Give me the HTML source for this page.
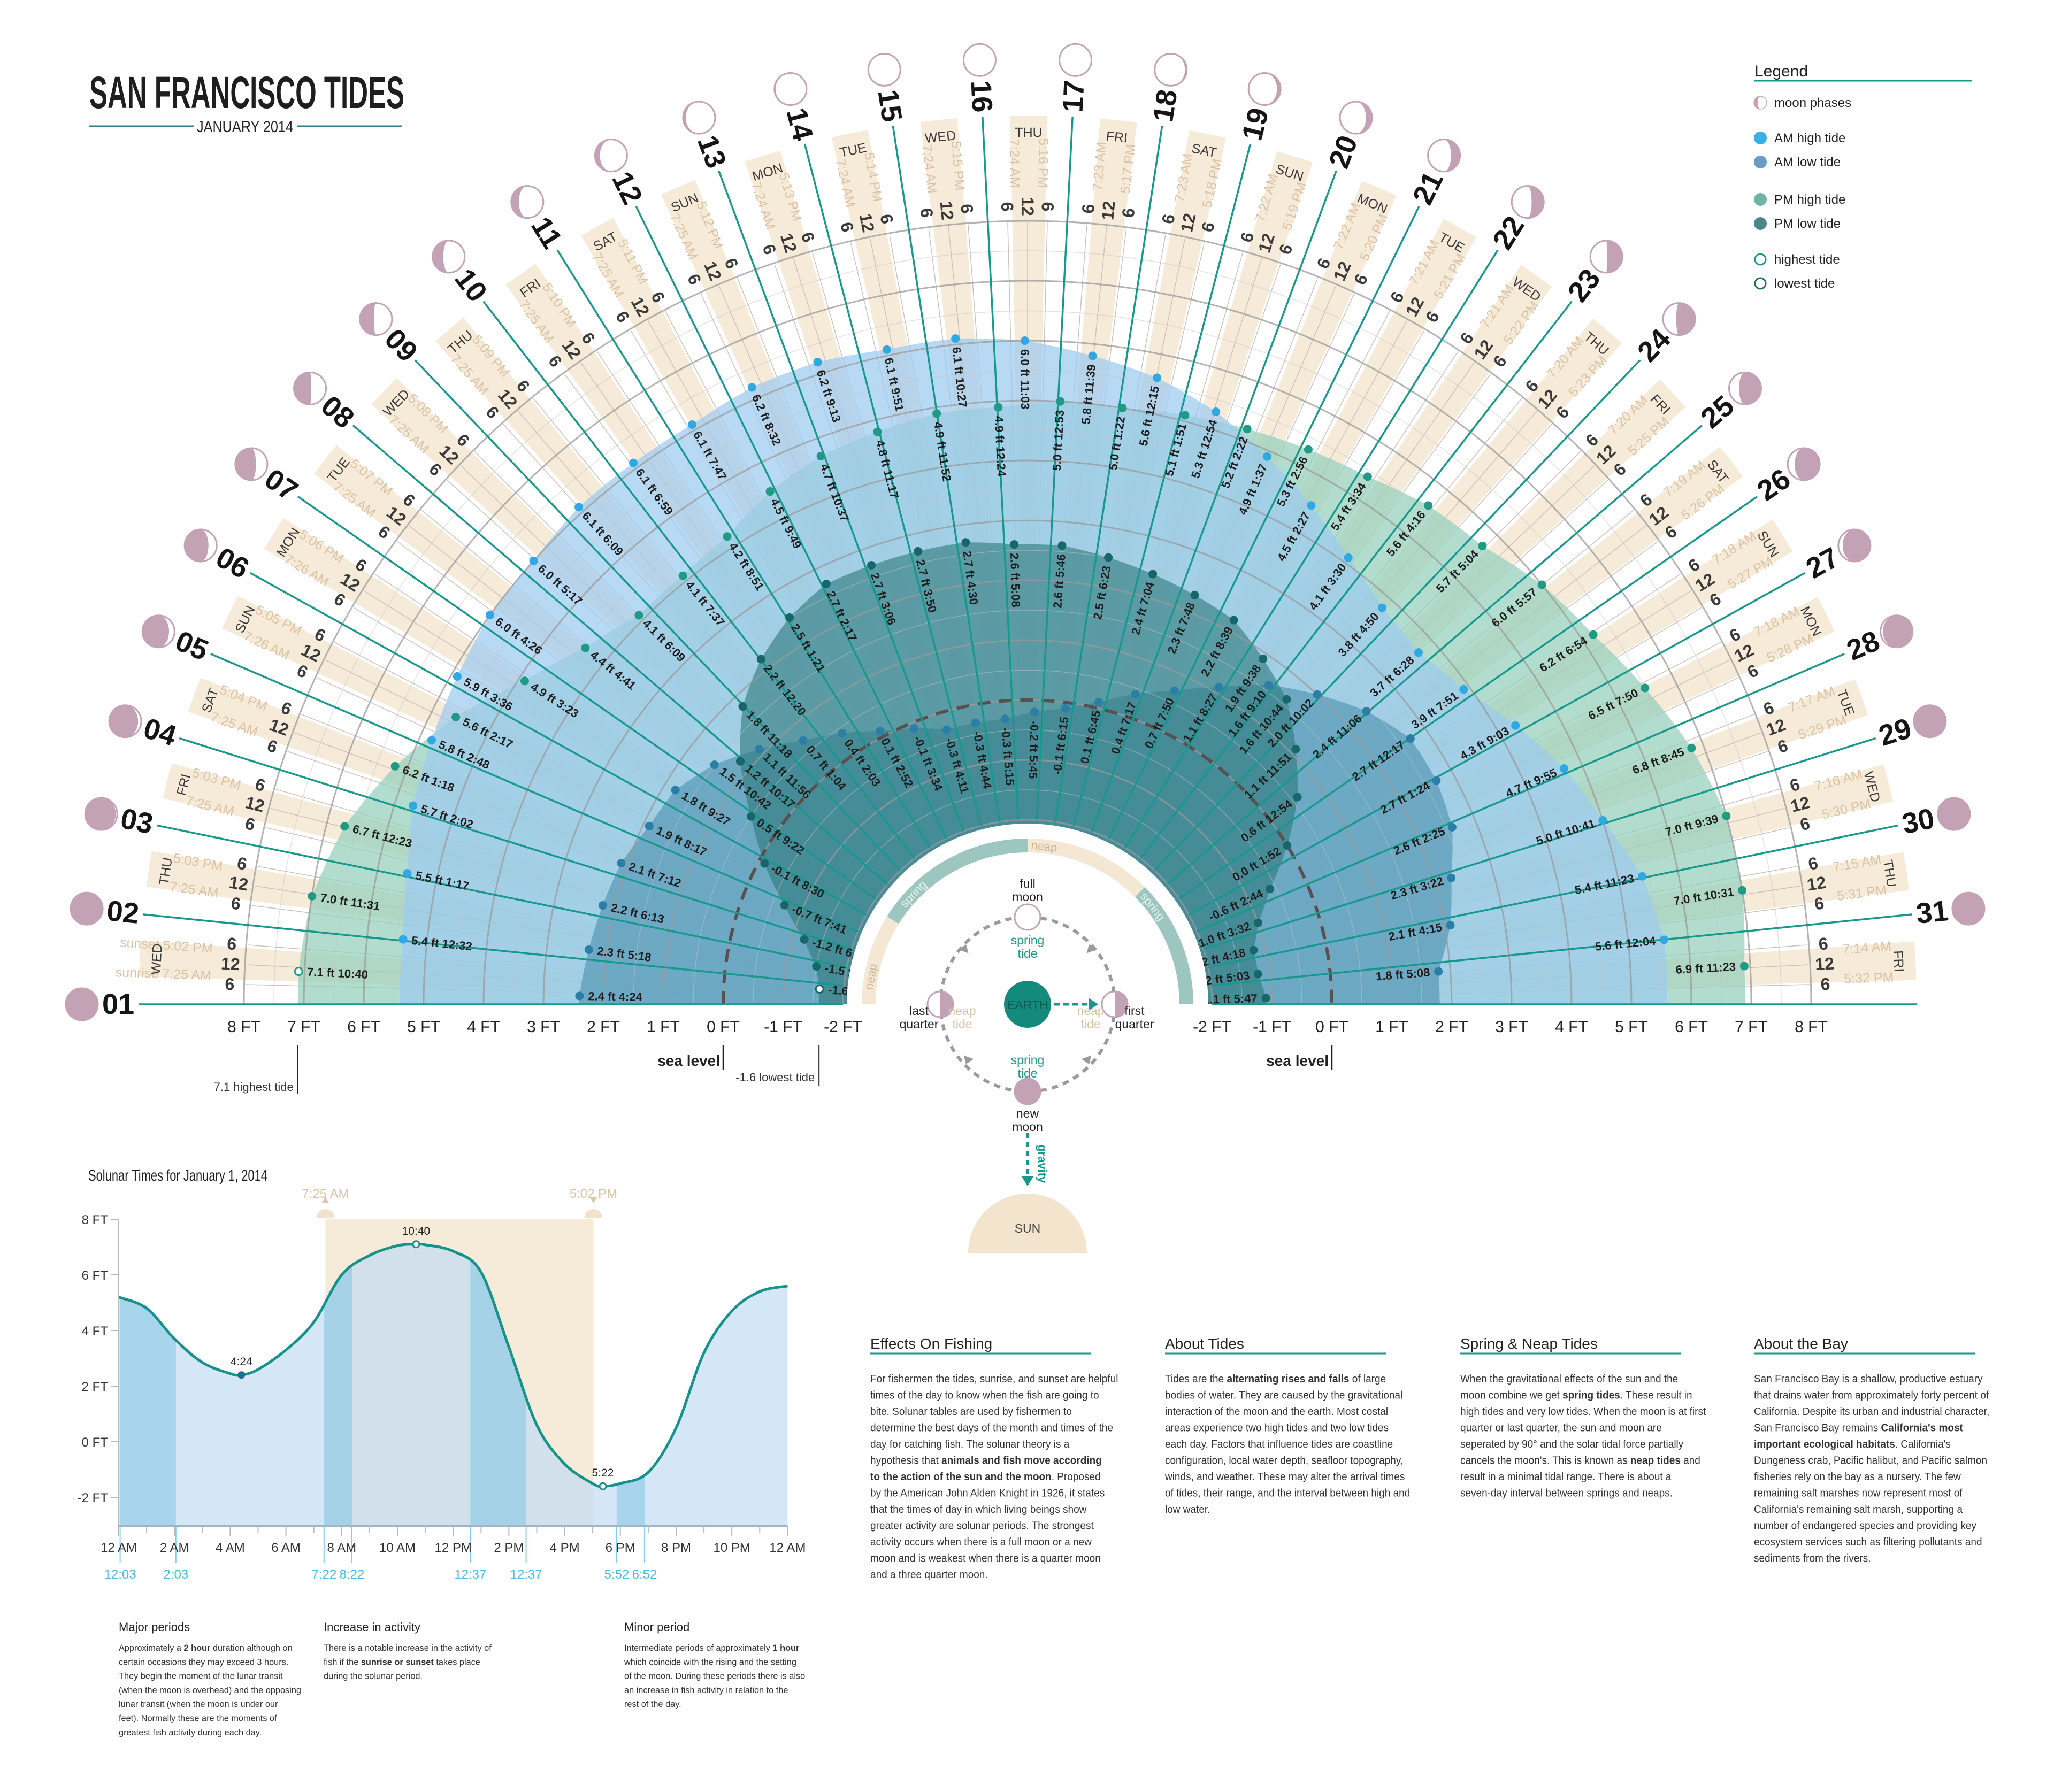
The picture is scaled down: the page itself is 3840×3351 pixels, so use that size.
<!DOCTYPE html>
<html><head><meta charset="utf-8"><title>San Francisco Tides</title>
<style>
html,body{margin:0;padding:0;background:#fff;}
svg{display:block;}
text{font-family:"Liberation Sans Narrow","Liberation Sans",sans-serif;}
</style></head>
<body>
<svg id="chart" xmlns="http://www.w3.org/2000/svg" width="3840" height="3351" viewBox="0 0 3840 3351">
<rect width="3840" height="3351" fill="#fff"/>
<g>
<text x="167" y="202" font-size="84" font-weight="bold" fill="#1e1e1e" textLength="589" lengthAdjust="spacingAndGlyphs">SAN FRANCISCO TIDES</text>
<line x1="167" y1="236" x2="362" y2="236" stroke="#2a7f88" stroke-width="3"/>
<line x1="555" y1="236" x2="751" y2="236" stroke="#2a7f88" stroke-width="3"/>
<text x="458" y="247" font-size="30" text-anchor="middle" fill="#222" textLength="180" lengthAdjust="spacingAndGlyphs">JANUARY 2014</text>
</g>
<g>
<text x="3280" y="143" font-size="30" fill="#222">Legend</text>
<line x1="3280" y1="151" x2="3687" y2="151" stroke="#1a9a8a" stroke-width="3"/>
<circle cx="3291" cy="192" r="12" fill="#fff" stroke="#c9a9bb" stroke-width="1.5"/>
<path d="M3291,180 A12,12 0 0 0 3291,204 A5,12 0 0 1 3291,180Z" fill="#c9a2b6"/>
<text x="3317" y="200" font-size="24" fill="#222">moon phases</text>
<circle cx="3291" cy="258" r="12" fill="#3aaee6"/>
<text x="3317" y="266" font-size="24" fill="#222">AM high tide</text>
<circle cx="3291" cy="303" r="12" fill="#6a9cc4"/>
<text x="3317" y="311" font-size="24" fill="#222">AM low tide</text>
<circle cx="3291" cy="373" r="12" fill="#6fb5a6"/>
<text x="3317" y="381" font-size="24" fill="#222">PM high tide</text>
<circle cx="3291" cy="418" r="12" fill="#4e8587"/>
<text x="3317" y="426" font-size="24" fill="#222">PM low tide</text>
<circle cx="3291" cy="485" r="10" fill="#fff" stroke="#1a9a8a" stroke-width="3"/>
<text x="3317" y="493" font-size="24" fill="#222">highest tide</text>
<circle cx="3291" cy="530" r="10" fill="#fff" stroke="#1b6f70" stroke-width="3"/>
<text x="3317" y="538" font-size="24" fill="#222">lowest tide</text>
</g>
<g id="radial"></g>
<g id="hub"></g>
<g id="solunar"></g>

<g font-size="17" fill="#333">
<text x="222" y="3050" font-size="22" fill="#222">Major periods</text>
<g transform="translate(222,3087) scale(0.96,1)">
<text y="0">Approximately a <tspan font-weight="bold">2 hour</tspan> duration although on</text>
<text y="26.3">certain occasions they may exceed 3 hours.</text>
<text y="52.6">They begin the moment of the lunar transit</text>
<text y="78.9">(when the moon is overhead) and the opposing</text>
<text y="105.2">lunar transit (when the moon is under our</text>
<text y="131.5">feet). Normally these are the moments of</text>
<text y="157.8">greatest fish activity during each day.</text>
</g>
<text x="605" y="3050" font-size="22" fill="#222">Increase in activity</text>
<g transform="translate(605,3087) scale(0.96,1)">
<text y="0">There is a notable increase in the activity of</text>
<text y="26.3">fish if the <tspan font-weight="bold">sunrise or sunset</tspan> takes place</text>
<text y="52.6">during the solunar period.</text>
</g>
<text x="1167" y="3050" font-size="22" fill="#222">Minor period</text>
<g transform="translate(1167,3087) scale(0.96,1)">
<text y="0">Intermediate periods of approximately <tspan font-weight="bold">1 hour</tspan></text>
<text y="26.3">which coincide with the rising and the setting</text>
<text y="52.6">of the moon. During these periods there is also</text>
<text y="78.9">an increase in fish activity in relation to the</text>
<text y="105.2">rest of the day.</text>
</g>
</g>

<g font-size="20" fill="#333">
<text x="1627" y="2522" font-size="28" fill="#222">Effects On Fishing</text>
<line x1="1627" y1="2531" x2="2040" y2="2531" stroke="#1a9a8a" stroke-width="3"/>
<g transform="translate(1627,2585) scale(0.95,1)">
<text y="0">For fishermen the tides, sunrise, and sunset are helpful</text>
<text y="30.5">times of the day to know when the fish are going to</text>
<text y="61">bite. Solunar tables are used by fishermen to</text>
<text y="91.5">determine the best days of the month and times of the</text>
<text y="122">day for catching fish. The solunar theory is a</text>
<text y="152.5">hypothesis that <tspan font-weight="bold">animals and fish move according</tspan></text>
<text y="183"><tspan font-weight="bold">to the action of the sun and the moon</tspan>. Proposed</text>
<text y="213.5">by the American John Alden Knight in 1926, it states</text>
<text y="244">that the times of day in which living beings show</text>
<text y="274.5">greater activity are solunar periods. The strongest</text>
<text y="305">activity occurs when there is a full moon or a new</text>
<text y="335.5">moon and is weakest when there is a quarter moon</text>
<text y="366">and a three quarter moon.</text>
</g>
<text x="2178" y="2522" font-size="28" fill="#222">About Tides</text>
<line x1="2178" y1="2531" x2="2591" y2="2531" stroke="#1a9a8a" stroke-width="3"/>
<g transform="translate(2178,2585) scale(0.95,1)">
<text y="0">Tides are the <tspan font-weight="bold">alternating rises and falls</tspan> of large</text>
<text y="30.5">bodies of water. They are caused by the gravitational</text>
<text y="61">interaction of the moon and the earth. Most costal</text>
<text y="91.5">areas experience two high tides and two low tides</text>
<text y="122">each day. Factors that influence tides are coastline</text>
<text y="152.5">configuration, local water depth, seafloor topography,</text>
<text y="183">winds, and weather. These may alter the arrival times</text>
<text y="213.5">of tides, their range, and the interval between high and</text>
<text y="244">low water.</text>
</g>
<text x="2730" y="2522" font-size="28" fill="#222">Spring &amp; Neap Tides</text>
<line x1="2730" y1="2531" x2="3143" y2="2531" stroke="#1a9a8a" stroke-width="3"/>
<g transform="translate(2730,2585) scale(0.95,1)">
<text y="0">When the gravitational effects of the sun and the</text>
<text y="30.5">moon combine we get <tspan font-weight="bold">spring tides</tspan>. These result in</text>
<text y="61">high tides and very low tides. When the moon is at first</text>
<text y="91.5">quarter or last quarter, the sun and moon are</text>
<text y="122">seperated by 90° and the solar tidal force partially</text>
<text y="152.5">cancels the moon's. This is known as <tspan font-weight="bold">neap tides</tspan> and</text>
<text y="183">result in a minimal tidal range. There is about a</text>
<text y="213.5">seven-day interval between springs and neaps.</text>
</g>
<text x="3279" y="2522" font-size="28" fill="#222">About the Bay</text>
<line x1="3279" y1="2531" x2="3692" y2="2531" stroke="#1a9a8a" stroke-width="3"/>
<g transform="translate(3279,2585) scale(0.95,1)">
<text y="0">San Francisco Bay is a shallow, productive estuary</text>
<text y="30.5">that drains water from approximately forty percent of</text>
<text y="61">California. Despite its urban and industrial character,</text>
<text y="91.5">San Francisco Bay remains <tspan font-weight="bold">California's most</tspan></text>
<text y="122"><tspan font-weight="bold">important ecological habitats</tspan>. California's</text>
<text y="152.5">Dungeness crab, Pacific halibut, and Pacific salmon</text>
<text y="183">fisheries rely on the bay as a nursery. The few</text>
<text y="213.5">remaining salt marshes now represent most of</text>
<text y="244">California's remaining salt marsh, supporting a</text>
<text y="274.5">number of endangered species and providing key</text>
<text y="305">ecosystem services such as filtering pollutants and</text>
<text y="335.5">sediments from the rivers.</text>
</g>
</g>
</svg>

<script>
// ===== Radial chart data =====
const weekdays = ['WED','THU','FRI','SAT','SUN','MON','TUE','WED','THU','FRI','SAT','SUN','MON','TUE','WED','THU','FRI','SAT','SUN','MON','TUE','WED','THU','FRI','SAT','SUN','MON','TUE','WED','THU','FRI'];
const sunriseTimes = ['7:25','7:25','7:25','7:25','7:26','7:26','7:25','7:25','7:25','7:25','7:25','7:25','7:24','7:24','7:24','7:24','7:23','7:23','7:22','7:22','7:21','7:21','7:20','7:20','7:19','7:18','7:18','7:17','7:16','7:15','7:14'];
const sunsetTimes = ['5:02','5:03','5:03','5:04','5:05','5:06','5:07','5:08','5:09','5:10','5:11','5:12','5:13','5:14','5:15','5:16','5:17','5:18','5:19','5:20','5:21','5:22','5:23','5:25','5:26','5:27','5:28','5:29','5:30','5:31','5:32'];

// AM high tide (blue)
const amHighDay  = [2,3,4,5,6,7,8,9,10,11,12,13,14,15,16,17,18,19,20,21,22,23,24,25,26,27,28,29,31];
const amHighTime = ['00:32','01:17','02:02','02:48','03:36','04:26','05:17','06:09','06:59','07:47','08:32','09:13','09:51','10:27','11:03','11:39','12:15','12:54','13:37','14:27','15:30','16:50','18:28','19:51','21:03','21:55','22:41','23:23','00:04'];
const amHighFt   = [5.4,5.5,5.7,5.8,5.9,6.0,6.0,6.1,6.1,6.1,6.2,6.2,6.1,6.1,6.0,5.8,5.6,5.3,4.9,4.5,4.1,3.8,3.7,3.9,4.3,4.7,5.0,5.4,5.6];
// PM high tide (green)
const pmHighDay  = [1,2,3,4,5,6,7,8,9,10,11,12,13,14,16,17,18,19,20,21,22,23,24,25,26,27,28,29,30,31];
const pmHighTime = ['10:40','11:31','12:23','13:18','14:17','15:23','16:41','18:09','19:37','20:51','21:49','22:37','23:17','23:52','00:24','00:53','01:22','01:51','02:22','02:56','03:34','04:16','05:04','05:57','06:54','07:50','08:45','09:39','10:31','11:23'];
const pmHighFt   = [7.1,7.0,6.7,6.2,5.6,4.9,4.4,4.1,4.1,4.2,4.5,4.7,4.8,4.9,4.9,5.0,5.0,5.1,5.2,5.3,5.4,5.6,5.7,6.0,6.2,6.5,6.8,7.0,7.0,6.9];
// AM low tide (steel blue)
const amLowDay  = [1,2,3,4,5,6,7,8,9,10,11,12,13,14,15,16,17,18,19,20,21,22,23,24,26,27,28,29,30,31];
const amLowTime = ['04:24','05:18','06:13','07:12','08:17','09:27','10:42','11:56','13:04','14:03','14:52','15:34','16:11','16:44','17:15','17:45','18:15','18:45','19:17','19:50','20:27','21:10','22:02','23:06','00:17','01:24','02:25','03:22','04:15','05:08'];
const amLowFt   = [2.4,2.3,2.2,2.1,1.9,1.8,1.5,1.1,0.7,0.4,0.1,-0.1,-0.3,-0.3,-0.3,-0.2,-0.1,0.1,0.4,0.7,1.1,1.6,2.0,2.4,2.7,2.7,2.6,2.3,2.1,1.8];
// PM low tide (dark teal)
const pmLowDay  = [1,2,3,4,5,6,7,8,10,11,12,13,14,15,16,17,18,19,20,21,22,23,24,25,26,27,28,29,30,31];
const pmLowTime = ['17:22','18:07','18:54','19:41','20:30','21:22','22:17','23:18','00:20','01:21','02:17','03:06','03:50','04:30','05:08','05:46','06:23','07:04','07:48','08:39','09:38','10:44','11:51','12:54','13:52','14:44','15:32','16:18','17:03','17:47'];
const pmLowFt   = [-1.6,-1.5,-1.2,-0.7,-0.1,0.5,1.2,1.8,2.2,2.5,2.7,2.7,2.7,2.7,2.6,2.6,2.5,2.4,2.3,2.2,1.9,1.6,1.1,0.6,0.0,-0.6,-1.0,-1.2,-1.2,-1.1];
const ftTicks = [-2,-1,0,1,2,3,4,5,6,7,8];
const ftTickLabels = ['-2 FT','-1 FT','0 FT','1 FT','2 FT','3 FT','4 FT','5 FT','6 FT','7 FT','8 FT'];

// ===== Solunar chart data =====
const solunarHours = [0,1,2,3,4,4.4,5,6,7,8,9,10,10.67,11,12,13,14,15,16,17,17.37,18,19,20,21,22,23,24];
const solunarFt = [5.2,4.8,3.7,2.85,2.45,2.4,2.6,3.3,4.3,6.0,6.7,7.05,7.1,7.08,6.85,6.1,3.4,0.6,-0.8,-1.5,-1.6,-1.5,-1.1,0.5,3.2,4.7,5.4,5.6];
const bandStart = [0.05,7.367,12.617,17.867];
const bandEnd = [2.05,8.367,14.617,18.867];
const bandStartLabels = ['12:03','7:22','12:37','5:52'];
const bandEndLabels = ['2:03','8:22','12:37','6:52'];
const hourTickLabels = ['12 AM','2 AM','4 AM','6 AM','8 AM','10 AM','12 PM','2 PM','4 PM','6 PM','8 PM','10 PM','12 AM'];
const solYTicks = [8,6,4,2,0,-2];
const solYLabels = ['8 FT','6 FT','4 FT','2 FT','0 FT','-2 FT'];
const extremeHours = [4.4,10.67,17.37];
const extremeFt = [2.4,7.1,-1.6];
const extremeLabels = ['4:24','10:40','5:22'];
const sunEventHours = [7.417,17.033];
const sunEventLabels = ['7:25 AM','5:02 PM'];

const NS = 'http://www.w3.org/2000/svg';
function mk(tag, parent) { const e = document.createElementNS(NS, tag); parent.appendChild(e); return e; }
function set(e, o) { for (const k in o) e.setAttribute(k, o[k]); return e; }

const CX = 1921, CY = 1878, STEP = 180 / 31, R_IN = 345, R_OUT = 1662;
function rad(ft) { return 569 + 112 * ft; }
function toH(s) { const p = s.split(':').map(Number); return p[0] + p[1] / 60; }
function ang(d, h) { return 180 - STEP * (d - 1) - STEP * h / 24; }
function P(a, r) { const t = a * Math.PI / 180; return [CX + r * Math.cos(t), CY - r * Math.sin(t)]; }
function fmt(s) { const p = s.split(':'); let h = +p[0] % 12; if (h === 0) h = 12; return h + ':' + p[1]; }
function sector(a1, a2, r1, r2) {
  const A = P(a1, r2), B = P(a2, r2), C = P(a2, r1), D = P(a1, r1);
  return `M${A[0]},${A[1]} A${r2},${r2} 0 0 1 ${B[0]},${B[1]} L${C[0]},${C[1]} A${r1},${r1} 0 0 0 ${D[0]},${D[1]} Z`;
}
function rotFor(d, a) { return d <= 16 ? 180 - a : -a; }

const radial = document.getElementById('radial');
const gBeige = mk('g', radial);


const gFill = mk('g', radial);


const gGrid = mk('g', radial);


const gRay = mk('g', radial);


const gTxt = mk('g', radial);


const gDots = mk('g', radial);



// daylight bands + hour lines + per-day labels
for (let i = 0; i < weekdays.length; i++) {
  const d = i + 1;
  const sr = toH(sunriseTimes[i]), ss = toH(sunsetTimes[i]) + 12;
  const band = mk('path', gBeige);
  set(band, { d: sector(ang(d, sr), ang(d, ss), R_IN, R_OUT), fill: '#f6ead8' });
  
  
  [6, 12, 18].forEach((h, j) => {
    const a = ang(d, h), p1 = P(a, R_IN), p2 = P(a, 1462);
    const ln = mk('line', gBeige);
    set(ln, { x1: p1[0], y1: p1[1], x2: p2[0], y2: p2[1], stroke: '#c8c2ba', 'stroke-width': 1.5 });
    
    
    const pt = P(a, 1492);
    const t = mk('text', gTxt);
    set(t, { x: pt[0], y: pt[1], 'font-size': 32, 'font-weight': 'bold', fill: '#3a3a3a', 'text-anchor': 'middle', 'dominant-baseline': 'central', transform: `rotate(${rotFor(d, a)},${pt[0]},${pt[1]})` });
    t.textContent = j === 1 ? '12' : '6';
    
    
  });
  const left = d <= 16;
  const aR = ang(d, sr + 0.9), pR = P(aR, 1527);
  const tr = mk('text', gTxt);
  set(tr, { x: pR[0], y: pR[1], 'font-size': 25, fill: '#d9c3a4', 'text-anchor': left ? 'end' : 'start', 'dominant-baseline': 'central', transform: `rotate(${rotFor(d, aR)},${pR[0]},${pR[1]})` });
  tr.textContent = (d === 1 ? 'sunrise ' : '') + sunriseTimes[i] + ' AM';
  
  
  const aS = ang(d, ss - 0.9), pS = P(aS, 1527);
  const ts = mk('text', gTxt);
  set(ts, { x: pS[0], y: pS[1], 'font-size': 25, fill: '#d9c3a4', 'text-anchor': left ? 'end' : 'start', 'dominant-baseline': 'central', transform: `rotate(${rotFor(d, aS)},${pS[0]},${pS[1]})` });
  ts.textContent = (d === 1 ? 'sunset ' : '') + sunsetTimes[i] + ' PM';
  
  
  const aN = ang(d, 12.3), pN = P(aN, 1630);
  const tn = mk('text', gTxt);
  set(tn, { x: pN[0], y: pN[1], 'font-size': 25, fill: '#3a3a3a', 'text-anchor': 'middle', 'dominant-baseline': 'central', transform: `rotate(${left ? 90 - aN : 90 - aN},${pN[0]},${pN[1]})` });
  tn.textContent = weekdays[i];
  
  
}

// tide areas
function areaPath(days, times, fts) {
  const pts = days.map((d, i) => [ang(d, toH(times[i])), rad(fts[i])]).sort((a, b) => b[0] - a[0]);
  const full = [[180, pts[0][1]]].concat(pts, [[0, pts[pts.length - 1][1]]]);
  let s = '';
  for (let i = 0; i < full.length - 1; i++) {
    const [a1, r1] = full[i], [a2, r2] = full[i + 1];
    for (let k = 0; k < 8; k++) {
      const f = k / 8, p = P(a1 + (a2 - a1) * f, r1 + (r2 - r1) * f);
      s += (s ? 'L' : 'M') + p[0].toFixed(1) + ',' + p[1].toFixed(1);
    }
  }
  const e = P(0, full[full.length - 1][1]);
  s += 'L' + e[0] + ',' + e[1] + 'L' + CX + ',' + CY + 'Z';
  return s;
}
const aHigh = mk('path', gFill);
set(aHigh, { d: areaPath(pmHighDay, pmHighTime, pmHighFt), fill: '#94d0bb', 'fill-opacity': 0.72 });


const bHigh = mk('path', gFill);
set(bHigh, { d: areaPath(amHighDay, amHighTime, amHighFt), fill: '#9ccbf0', 'fill-opacity': 0.72 });


const bLow = mk('path', gFill);
set(bLow, { d: areaPath(amLowDay, amLowTime, amLowFt), fill: '#4a8fae', 'fill-opacity': 0.6 });


const aLow = mk('path', gFill);
set(aLow, { d: areaPath(pmLowDay, pmLowTime, pmLowFt), fill: '#2f7a7c', 'fill-opacity': 0.62 });



// grid arcs
for (let f = -2; f <= 8.01; f += 0.5) {
  const r = rad(f), major = Math.abs(f - Math.round(f)) < 0.01;
  const arc = mk('path', gGrid);
  set(arc, { d: `M${CX - r},${CY} A${r},${r} 0 0 1 ${CX + r},${CY}`, fill: 'none', stroke: major ? '#9a9a9a' : '#c4c4c4', 'stroke-width': major ? 3 : 1.5, 'stroke-opacity': major ? 0.75 : 0.5 });
  
  
}
const sea = mk('path', gGrid);
set(sea, { d: `M${CX - rad(0)},${CY} A${rad(0)},${rad(0)} 0 0 1 ${CX + rad(0)},${CY}`, fill: 'none', stroke: '#5a4f4f', 'stroke-width': 6, 'stroke-dasharray': '24 16' });



// day rays, numbers, moons
function moon(parent, cx, cy, R, p) {
  const g = mk('g', parent);
  const base = mk('circle', g);
  set(base, { cx, cy, r: R, fill: '#c4a2b6' });
  const k = Math.cos(2 * Math.PI * p), rx = Math.abs(k) * R;
  let d;
  if (p < 0.5) d = `M${cx},${cy - R} A${R},${R} 0 0 1 ${cx},${cy + R} A${rx},${R} 0 0 ${k > 0 ? 0 : 1} ${cx},${cy - R}Z`;
  else d = `M${cx},${cy - R} A${R},${R} 0 0 0 ${cx},${cy + R} A${rx},${R} 0 0 ${k > 0 ? 1 : 0} ${cx},${cy - R}Z`;
  const lit = mk('path', g);
  set(lit, { d, fill: '#fff' });
  const ol = mk('circle', g);
  set(ol, { cx, cy, r: R, fill: 'none', stroke: '#c4a2b6', 'stroke-width': 3 });
  return g;
}
for (let d = 1; d <= 31; d++) {
  const a = ang(d, 0), p1 = P(a, R_IN), p2 = P(a, R_OUT);
  const ln = mk('line', gRay);
  set(ln, { x1: p1[0], y1: p1[1], x2: p2[0], y2: p2[1], stroke: '#16998c', 'stroke-width': 3.5 });
  
  
  const pn = P(a, 1700);
  const tn = mk('text', gTxt);
  set(tn, { x: pn[0], y: pn[1], 'font-size': 54, 'font-weight': 'bold', fill: '#151515', 'text-anchor': 'middle', 'dominant-baseline': 'central', transform: `rotate(${rotFor(d, a)},${pn[0]},${pn[1]})` });
  tn.textContent = (d < 10 ? '0' : '') + d;
  
  
  const pm = P(a, 1768);
  const mg = moon(gTxt, pm[0], pm[1], 30, (((d - 1) / 29.53) % 1));
  
  
}
const rb = P(0, R_OUT), rbi = P(0, R_IN);
const rline = mk('line', gRay);
set(rline, { x1: rbi[0], y1: CY, x2: rb[0], y2: CY, stroke: '#16998c', 'stroke-width': 3.5 });



// points
function points(days, times, fts, color, name) {
  days.forEach((d, i) => {
    const a = ang(d, toH(times[i])), r = rad(fts[i]), p = P(a, r);
    const hollow = (name === 'pm-high' && d === 1) || (name === 'pm-low' && d === 1);
    const c = mk('circle', gDots);
    set(c, hollow ? { cx: p[0], cy: p[1], r: 7, fill: '#fff', stroke: color, 'stroke-width': 3 } : { cx: p[0], cy: p[1], r: 8, fill: color });
    
    
    const lp = P(a, r - 16);
    const t = mk('text', gDots);
    set(t, { x: lp[0], y: lp[1], 'font-size': 22, 'font-weight': 'bold', fill: '#1d1d1d', 'text-anchor': d <= 16 ? 'start' : 'end', 'dominant-baseline': 'central', transform: `rotate(${rotFor(d, a)},${lp[0]},${lp[1]})` });
    t.textContent = fts[i].toFixed(1) + ' ft ' + fmt(times[i]);
    
    
  });
}
points(amHighDay, amHighTime, amHighFt, '#2fa8e4', 'am-high');
points(pmHighDay, pmHighTime, pmHighFt, '#1f9a84', 'pm-high');
points(amLowDay, amLowTime, amLowFt, '#2b7fa6', 'am-low');
points(pmLowDay, pmLowTime, pmLowFt, '#17676a', 'pm-low');

// axis labels
ftTicks.forEach((f, i) => {
  [-1, 1].forEach(s => {
    const t = mk('text', radial);
    set(t, { x: CX + s * rad(f), y: 1930, 'font-size': 30, fill: '#222', 'text-anchor': 'middle' });
    t.textContent = ftTickLabels[i];
    
    
  });
});
[-1, 1].forEach(s => {
  const x = CX + s * rad(0);
  const l = mk('line', radial);
  set(l, { x1: x, y1: 1955, x2: x, y2: 2000, stroke: '#222', 'stroke-width': 2.5 });
  
  
  const t = mk('text', radial);
  set(t, { x: x - 6, y: 1993, 'font-size': 28, 'font-weight': 'bold', fill: '#222', 'text-anchor': 'end' });
  t.textContent = 'sea level';
  
  
});
const hx = CX - rad(7.1);
const hl = mk('line', radial);
set(hl, { x1: hx, y1: 1955, x2: hx, y2: 2045, stroke: '#222', 'stroke-width': 2 });


const ht = mk('text', radial);
set(ht, { x: hx - 8, y: 2040, 'font-size': 22, fill: '#333', 'text-anchor': 'end' });
ht.textContent = '7.1 highest tide';


const lx = CX - rad(-1.6);
const ll = mk('line', radial);
set(ll, { x1: lx, y1: 1955, x2: lx, y2: 2030, stroke: '#222', 'stroke-width': 2 });


const lt = mk('text', radial);
set(lt, { x: lx - 8, y: 2022, 'font-size': 22, fill: '#333', 'text-anchor': 'end' });
lt.textContent = '-1.6 lowest tide';



// ===== hub =====
const hub = document.getElementById('hub');
const hw = mk('path', hub);
set(hw, { d: `M${CX - 338},${CY} A338,338 0 0 1 ${CX + 338},${CY}Z`, fill: '#fff' });


[[180, 148, '#f4e7d4', 'neap', 170], [148, 90, '#9cc6bf', 'spring', 136], [90, 45, '#f4e7d4', 'neap', 84], [45, 0, '#9cc6bf', 'spring', 38]].forEach(s => {
  const seg = mk('path', hub);
  set(seg, { d: sector(s[0], s[1], 284, 310), fill: s[2] });
  
  
  const p = P(s[4], 297);
  const t = mk('text', hub);
  set(t, { x: p[0], y: p[1], 'font-size': 22, fill: s[3] === 'neap' ? '#cdb597' : '#e9f5f2', 'text-anchor': 'middle', 'dominant-baseline': 'central', transform: `rotate(${90 - s[4]},${p[0]},${p[1]})` });
  t.textContent = s[3];
  
  
});
const orbit = mk('circle', hub);
set(orbit, { cx: CX, cy: CY, r: 163, fill: 'none', stroke: '#9b9b9b', 'stroke-width': 6, 'stroke-dasharray': '12 10' });


[[CX - 115, CY - 112, 200], [CX + 115, CY - 112, 160], [CX - 115, CY + 112, 20], [CX + 115, CY + 112, -20]].forEach(a => {
  const ar = mk('path', hub);
  set(ar, { d: `M${a[0]},${a[1]} l-10,-14 l20,0Z`, fill: '#9b9b9b', transform: `rotate(${a[2]},${a[0]},${a[1]})` });
  
  
});
const mFull = moon(hub, CX, CY - 163, 24, 0.5);


const mNew = moon(hub, CX, CY + 163, 24, 0);


const mLast = moon(hub, CX - 163, CY, 24, 0.75);


const mFirst = moon(hub, CX + 163, CY, 24, 0.75);


const earth = mk('circle', hub);
set(earth, { cx: CX, cy: CY, r: 44, fill: '#138a7c' });


const arrowE = mk('path', hub);
set(arrowE, { d: `M${CX + 50},${CY} L${CX + 118},${CY}`, stroke: '#16998c', 'stroke-width': 5, 'stroke-dasharray': '10 7', fill: 'none' });


const arrowEH = mk('path', hub);
set(arrowEH, { d: `M${CX + 132},${CY} l-18,-12 l0,24Z`, fill: '#16998c' });


const gArrow = mk('path', hub);
set(gArrow, { d: `M${CX},${CY + 240} L${CX},${CY + 322}`, stroke: '#16998c', 'stroke-width': 5, 'stroke-dasharray': '10 7', fill: 'none' });


const gArrowH = mk('path', hub);
set(gArrowH, { d: `M${CX},${CY + 340} l-11,-18 l22,0Z`, fill: '#16998c' });


const sun = mk('path', hub);
set(sun, { d: `M${CX - 111},${CY + 465} A111,111 0 0 1 ${CX + 111},${CY + 465}Z`, fill: '#f3e4cd' });


const hubTexts = [
  ['full', CX, CY - 218, '#222', 'full-moon-label'], ['moon', CX, CY - 193, '#222', 'full-moon-label'],
  ['spring', CX, CY - 112, '#1a9a8a', 'spring-tide-label'], ['tide', CX, CY - 87, '#1a9a8a', 'spring-tide-label'],
  ['EARTH', CX, CY + 9, '#0c5a52', 'earth-label'],
  ['spring', CX, CY + 112, '#1a9a8a', 'spring-tide-label'], ['tide', CX, CY + 137, '#1a9a8a', 'spring-tide-label'],
  ['new', CX, CY + 212, '#222', 'new-moon-label'], ['moon', CX, CY + 237, '#222', 'new-moon-label'],
  ['last', CX - 203, CY + 20, '#222', 'last-quarter-label'], ['quarter', CX - 203, CY + 45, '#222', 'last-quarter-label'],
  ['neap', CX - 122, CY + 20, '#d9c3a4', 'neap-tide-label'], ['tide', CX - 122, CY + 45, '#d9c3a4', 'neap-tide-label'],
  ['neap', CX + 118, CY + 20, '#d9c3a4', 'neap-tide-label'], ['tide', CX + 118, CY + 45, '#d9c3a4', 'neap-tide-label'],
  ['first', CX + 200, CY + 20, '#222', 'first-quarter-label'], ['quarter', CX + 200, CY + 45, '#222', 'first-quarter-label'],
  ['SUN', CX, CY + 427, '#444', 'sun-label']
];
hubTexts.forEach(h => {
  const t = mk('text', hub);
  set(t, { x: h[1], y: h[2], 'font-size': 23, fill: h[3], 'text-anchor': 'middle' });
  t.textContent = h[0];
  
  
});
const grav = mk('text', hub);
set(grav, { x: CX + 20, y: CY + 262, 'font-size': 22, 'font-weight': 'bold', fill: '#16998c', transform: `rotate(90,${CX + 20},${CY + 262})` });
grav.textContent = 'gravity';



// ===== Solunar chart =====
const sol = document.getElementById('solunar');
const X0 = 222, XH = 52.1, YTOP = 2280, YPF = 52, YBOT = 2853;
function sx(h) { return X0 + XH * h; }
function sy(f) { return YTOP + (8 - f) * YPF; }
const st = mk('text', sol);
set(st, { x: 165, y: 2208, 'font-size': 30, fill: '#1e1e1e', textLength: 335, lengthAdjust: 'spacingAndGlyphs' });
st.textContent = 'Solunar Times for January 1, 2014';


const sunBand = mk('rect', sol);
set(sunBand, { x: sx(sunEventHours[0]), y: YTOP, width: sx(sunEventHours[1]) - sx(sunEventHours[0]), height: YBOT - YTOP, fill: '#f6ead8' });


sunEventHours.forEach((h, i) => {
  const x = sx(h);
  const cap = mk('path', sol);
  set(cap, { d: `M${x - 17},${YTOP - 2} A17,17 0 0 1 ${x + 17},${YTOP - 2}Z`, fill: '#f1e2cb' });
  
  
  const tri = mk('path', sol);
  set(tri, { d: i === 0 ? `M${x - 7},${YTOP - 30} l7,-12 l7,12Z` : `M${x - 7},${YTOP - 42} l7,12 l7,-12Z`, fill: '#dcc7a8' });
  
  
  const t = mk('text', sol);
  set(t, { x, y: 2240, 'font-size': 24, fill: '#d9c3a4', 'text-anchor': 'middle' });
  t.textContent = sunEventLabels[i];
  
  
});
const pts = solunarHours.map((h, i) => [sx(h), sy(solunarFt[i])]);
let cd = `M${pts[0][0]},${pts[0][1]}`;
for (let i = 0; i < pts.length - 1; i++) {
  const p0 = pts[i - 1] || pts[i], p1 = pts[i], p2 = pts[i + 1], p3 = pts[i + 2] || pts[i + 1];
  cd += ` C${p1[0] + (p2[0] - p0[0]) / 6},${p1[1] + (p2[1] - p0[1]) / 6} ${p2[0] - (p3[0] - p1[0]) / 6},${p2[1] - (p3[1] - p1[1]) / 6} ${p2[0]},${p2[1]}`;
}
const areaD = cd + ` L${sx(24)},${YBOT} L${sx(0)},${YBOT}Z`;
const defs = mk('defs', sol);
const clip = mk('clipPath', defs);
clip.setAttribute('id', 'solclip');
const cp = mk('path', clip);
cp.setAttribute('d', areaD);
const area = mk('path', sol);
set(area, { d: areaD, fill: '#c3dcf3', 'fill-opacity': 0.7 });


const bands = mk('g', sol);
bands.setAttribute('clip-path', 'url(#solclip)');


bandStart.forEach((b, i) => {
  const r = mk('rect', bands);
  set(r, { x: sx(b), y: YTOP, width: sx(bandEnd[i]) - sx(b), height: YBOT - YTOP, fill: '#7fc6e3', 'fill-opacity': 0.55 });
  
  
  [[b, bandStartLabels[i]], [bandEnd[i], bandEndLabels[i]]].forEach(e => {
    const l = mk('line', sol);
    set(l, { x1: sx(e[0]), y1: YBOT, x2: sx(e[0]), y2: 2922, stroke: '#7fd0ee', 'stroke-width': 2 });
    
    
    const t = mk('text', sol);
    set(t, { x: sx(e[0]), y: 2952, 'font-size': 24, fill: '#45bde8', 'text-anchor': 'middle' });
    t.textContent = e[1];
    
    
  });
});
const curve = mk('path', sol);
set(curve, { d: cd, fill: 'none', stroke: '#16928a', 'stroke-width': 5 });


const yAx = mk('line', sol);
set(yAx, { x1: X0, y1: YTOP, x2: X0, y2: YBOT, stroke: '#b8b8b8', 'stroke-width': 2 });


solYTicks.forEach((f, i) => {
  const tk = mk('line', sol);
  set(tk, { x1: X0 - 14, y1: sy(f), x2: X0, y2: sy(f), stroke: '#b8b8b8', 'stroke-width': 2 });
  
  
  const t = mk('text', sol);
  set(t, { x: X0 - 20, y: sy(f) + 9, 'font-size': 24, fill: '#333', 'text-anchor': 'end' });
  t.textContent = solYLabels[i];
  
  
});
const xAx = mk('line', sol);
set(xAx, { x1: X0, y1: YBOT, x2: sx(24), y2: YBOT, stroke: '#9fb6c4', 'stroke-width': 4 });


for (let h = 0; h <= 24; h++) {
  const tk = mk('line', sol);
  set(tk, { x1: sx(h), y1: YBOT, x2: sx(h), y2: YBOT + (h % 2 ? 14 : 20), stroke: '#b8b8b8', 'stroke-width': 2 });
  
  
}
hourTickLabels.forEach((lab, i) => {
  const t = mk('text', sol);
  set(t, { x: sx(i * 2), y: 2902, 'font-size': 24, fill: '#333', 'text-anchor': 'middle' });
  t.textContent = lab;
  
  
});
extremeHours.forEach((h, i) => {
  const c = mk('circle', sol);
  set(c, i === 0 ? { cx: sx(h), cy: sy(extremeFt[i]), r: 7, fill: '#1f6f93' } : { cx: sx(h), cy: sy(extremeFt[i]), r: 6, fill: '#fff', stroke: '#16928a', 'stroke-width': 3 });
  
  
  const t = mk('text', sol);
  set(t, { x: sx(h), y: sy(extremeFt[i]) - 18, 'font-size': 21, fill: '#222', 'text-anchor': 'middle' });
  t.textContent = extremeLabels[i];
  
  
});
</script>
</body></html>
